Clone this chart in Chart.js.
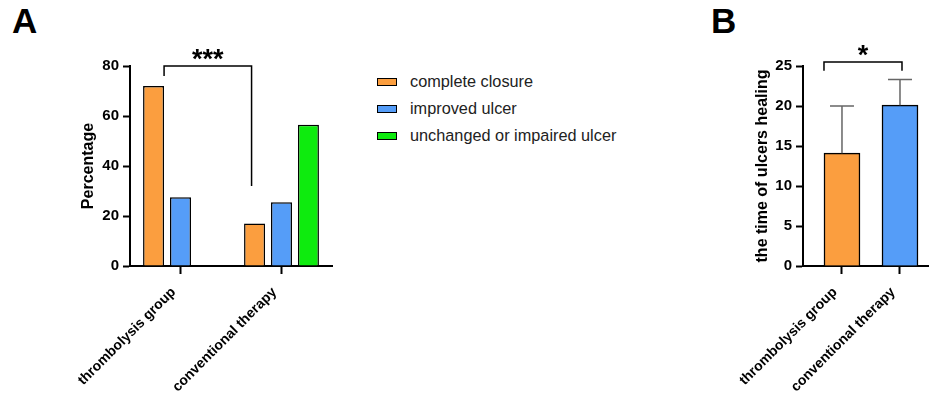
<!DOCTYPE html>
<html>
<head>
<meta charset="utf-8">
<script src="https://cdn.jsdelivr.net/npm/chart.js@4.4.0/dist/chart.umd.min.js"></script>
<style>
  html, body { margin: 0; padding: 0; background: #fff; width: 929px; height: 401px; overflow: hidden; }
  canvas { position: absolute; top: 0; }
  #chartA { left: 0; }
  #chartB { left: 700px; }
  .panel { position: absolute; top: 4px; font: bold 35px "Liberation Sans", Arial, sans-serif; line-height: 34px; color: #000; }
  #legend { position: absolute; left: 377px; top: 68px; font: 16.3px "Liberation Sans", Arial, sans-serif; color: #222; }
  .item { height: 27px; display: flex; align-items: center; }
  .box { width: 18px; height: 6px; border: 1.5px solid #000; margin-right: 13px; }
</style>
</head>
<body>
<div class="panel" style="left:12px">A</div>
<div class="panel" style="left:711px">B</div>
<canvas id="chartA" width="345" height="401"></canvas>
<div id="legend"></div>
<canvas id="chartB" width="229" height="401"></canvas>
<script>
// panel A: outcome percentages
const groups = ["thrombolysis group", "conventional therapy"];
const outcomes = ["complete closure", "improved ulcer", "unchanged or impaired ulcer"];
const closure = [72, 17];
const improved = [27.5, 25.5];
const unchanged = [0, 56.5];

// panel B: healing time, mean and SD
const healMean = [14.1, 20.1];
const healSD = [5.9, 3.2];

const colors = ["#FB9E3F", "#559DF8", "#0EEB0E"];
const FONT = '"Liberation Sans", Arial, sans-serif';

Chart.defaults.font.family = FONT;
Chart.defaults.color = "#000";

// legend for A
const legend = document.getElementById("legend");
outcomes.forEach((name, i) => {
  const row = document.createElement("div");
  row.className = "item";
  row.innerHTML = '<span class="box" style="background:' + colors[i] + '"></span><span>' + name + '</span>';
  legend.appendChild(row);
});

function axisY(width, max, step, title) {
  return {
    min: 0, max: max,
    afterFit: (s) => { s.width = width; },
    border: { color: "#000", width: 2 },
    grid: { drawOnChartArea: false, tickLength: 7, tickColor: "#000", tickWidth: 2 },
    ticks: { stepSize: step, padding: 4, font: { size: 15, weight: "bold" }, color: "#000" },
    title: { display: true, text: title, padding: 0, font: { size: 16, weight: "bold", lineHeight: 1.2 }, color: "#000" }
  };
}

const xTicks = { minRotation: 45, maxRotation: 45, autoSkip: false, padding: 10, labelOffset: -7, font: { size: 14, weight: "bold" }, color: "#000" };

function stars(ctx, text, x, yTop) {
  ctx.font = "bold 27px " + FONT;
  ctx.textAlign = "center";
  ctx.textBaseline = "alphabetic";
  ctx.fillStyle = "#000";
  ctx.fillText(text, x, yTop + 2);
}

// significance bracket for A
const bracketA = {
  id: "bracketA",
  afterDraw(chart) {
    const { ctx, scales: { y } } = chart;
    const b0 = chart.getDatasetMeta(0).data[0];
    const b1 = chart.getDatasetMeta(0).data[1];
    const xl = b0.x + b0.width / 2;
    const xr = b1.x - 3;
    const yt = y.getPixelForValue(80);
    ctx.save();
    ctx.strokeStyle = "#000";
    ctx.lineWidth = 1.5;
    ctx.beginPath();
    ctx.moveTo(xl, y.getPixelForValue(76));
    ctx.lineTo(xl, yt);
    ctx.lineTo(xr, yt);
    ctx.lineTo(xr, y.getPixelForValue(32));
    ctx.stroke();
    stars(ctx, "***", (xl + xr) / 2, yt);
    ctx.restore();
  }
};

new Chart(document.getElementById("chartA"), {
  type: "bar",
  data: {
    labels: groups,
    datasets: [closure, improved, unchanged].map((d, i) => ({
      label: outcomes[i],
      data: d,
      backgroundColor: colors[i],
      borderColor: "#000",
      borderWidth: 1.5,
      categoryPercentage: 0.8,
      barPercentage: 0.78
    }))
  },
  options: {
    responsive: false,
    animation: false,
    layout: { padding: { left: 79, top: 66, right: 13, bottom: 0 } },
    plugins: { legend: { display: false }, tooltip: { enabled: false } },
    scales: {
      x: {
        afterFit: (s) => { s.height = 135; },
        border: { color: "#000", width: 2 },
        grid: { drawOnChartArea: false, offset: false, tickLength: 8, tickColor: "#000", tickWidth: 2 },
        ticks: xTicks
      },
      y: axisY(51, 80, 20, "Percentage")
    }
  },
  plugins: [bracketA]
});

// error bars and bracket for B
const extrasB = {
  id: "extrasB",
  afterDatasetsDraw(chart) {
    const { ctx, scales: { x, y } } = chart;
    ctx.save();
    ctx.strokeStyle = "#666";
    ctx.lineWidth = 1.5;
    healMean.forEach((m, i) => {
      const px = x.getPixelForValue(i);
      const top = y.getPixelForValue(m + healSD[i]);
      ctx.beginPath();
      ctx.moveTo(px, y.getPixelForValue(m));
      ctx.lineTo(px, top);
      ctx.moveTo(px - 12, top);
      ctx.lineTo(px + 12, top);
      ctx.stroke();
    });
    ctx.restore();
  },
  afterDraw(chart) {
    const { ctx, scales: { x, y } } = chart;
    const b0 = chart.getDatasetMeta(0).data[0];
    const xl = b0.x - b0.width / 2;
    const xr = x.getPixelForValue(1) + 2;
    const yt = y.getPixelForValue(25.5);
    const yb = y.getPixelForValue(24.4);
    ctx.save();
    ctx.strokeStyle = "#000";
    ctx.lineWidth = 1.5;
    ctx.beginPath();
    ctx.moveTo(xl, yb);
    ctx.lineTo(xl, yt);
    ctx.lineTo(xr, yt);
    ctx.lineTo(xr, yb);
    ctx.stroke();
    stars(ctx, "*", (xl + xr) / 2, yt);
    ctx.restore();
  }
};

new Chart(document.getElementById("chartB"), {
  type: "bar",
  data: {
    datasets: [{
      data: healMean.map((v, i) => ({ x: i, y: v })),
      backgroundColor: colors.slice(0, 2),
      borderColor: "#000",
      borderWidth: 1.5,
      barThickness: 36
    }]
  },
  options: {
    responsive: false,
    animation: false,
    layout: { padding: { left: 53, top: 66, right: 0, bottom: 0 } },
    plugins: { legend: { display: false }, tooltip: { enabled: false } },
    scales: {
      x: {
        type: "linear",
        min: -0.672, max: 1.5,
        offset: false,
        afterFit: (s) => { s.height = 135; },
        afterBuildTicks: (s) => { s.ticks = groups.map((g, i) => ({ value: i })); },
        border: { color: "#000", width: 2 },
        grid: { drawOnChartArea: false, offset: false, tickLength: 8, tickColor: "#000", tickWidth: 2 },
        ticks: Object.assign({}, xTicks, { callback: (v) => groups[v] })
      },
      y: axisY(50, 25, 5, "the time of ulcers healing")
    }
  },
  plugins: [extrasB]
});
</script>
</body>
</html>
